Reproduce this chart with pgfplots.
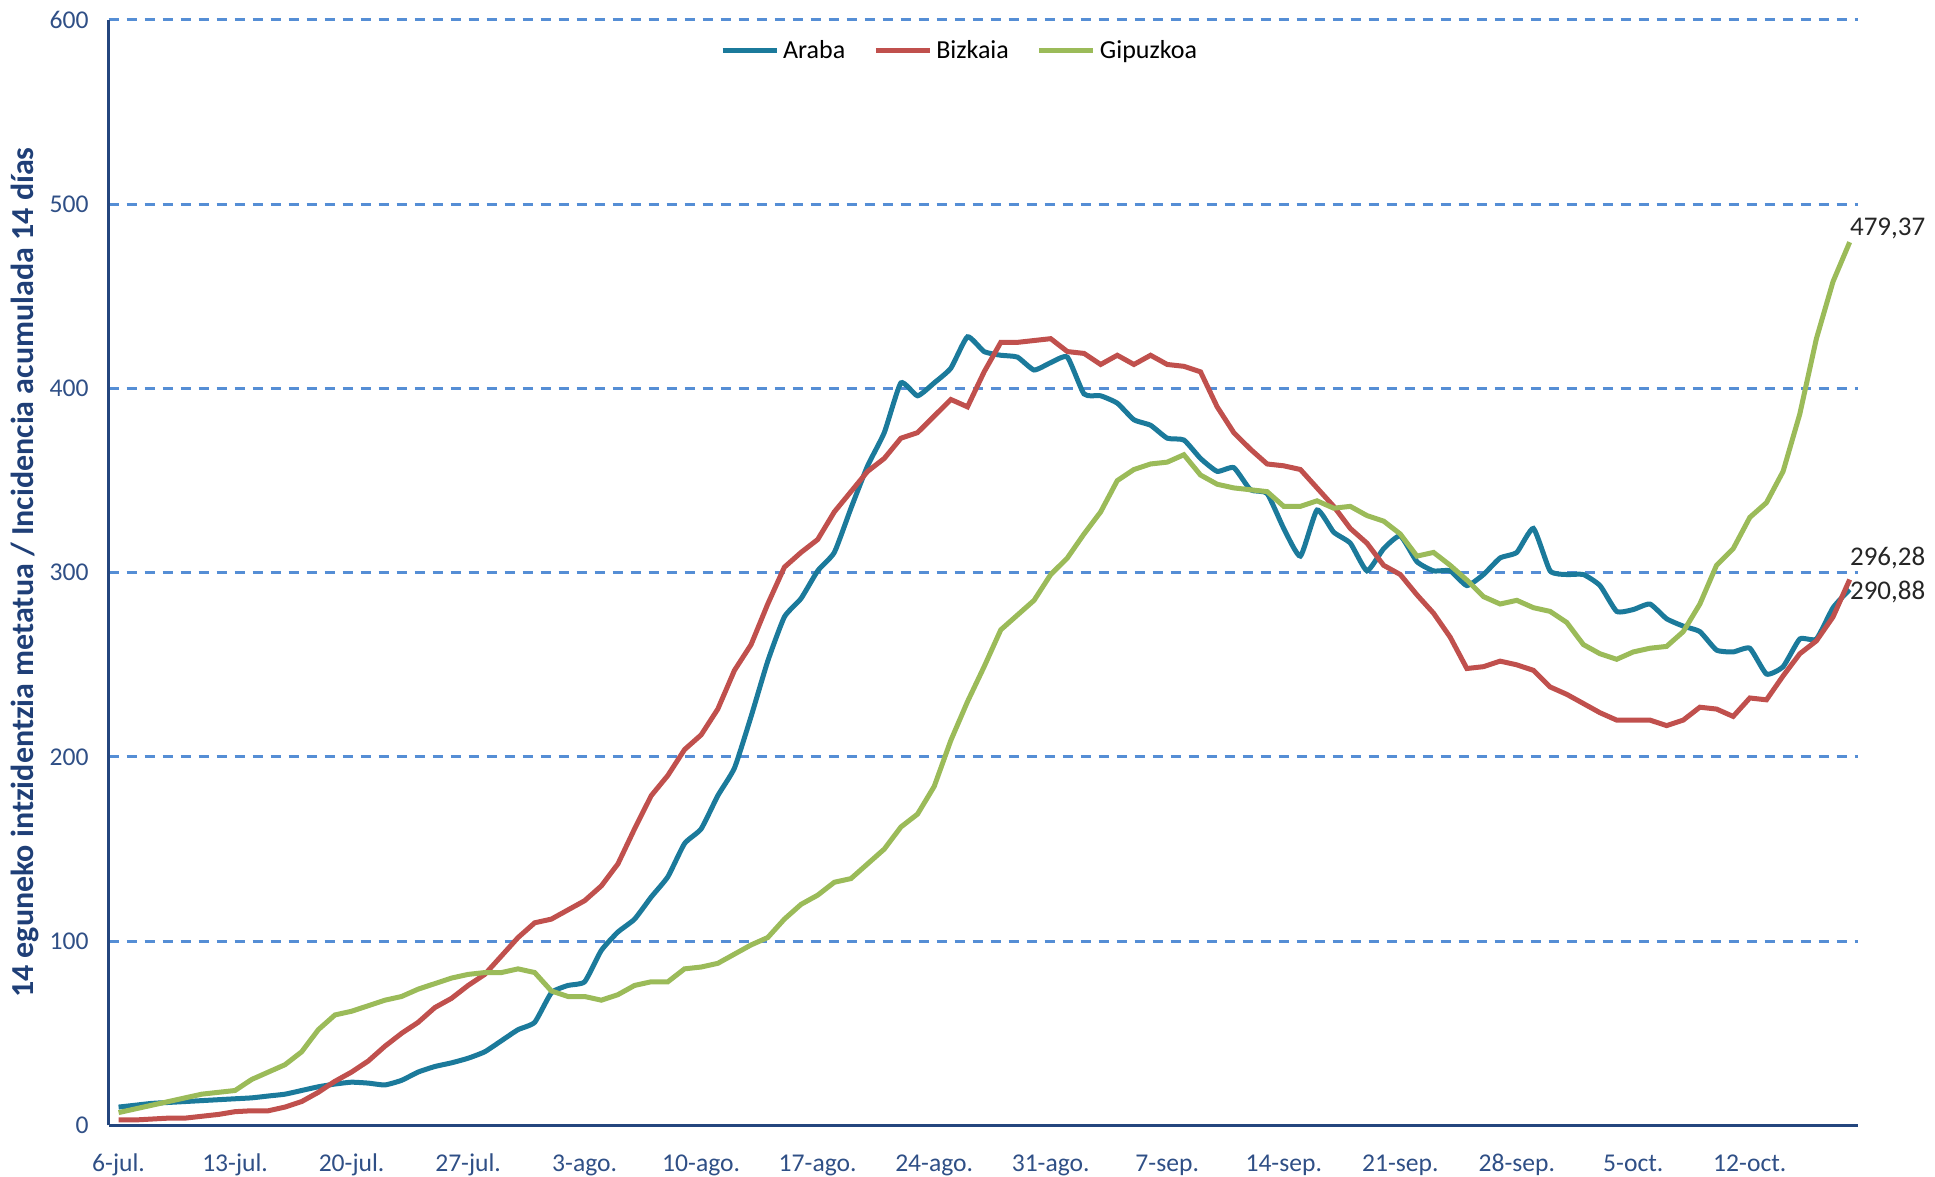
\documentclass[border=0pt]{standalone}
\usepackage{fontspec}
\setmainfont{Carlito}
\usepackage{pgfplots}
\pgfplotsset{compat=1.18}
\definecolor{araba}{HTML}{1B7A9B}
\definecolor{bizkaia}{HTML}{C0504D}
\definecolor{gipuzkoa}{HTML}{9BBB59}
\definecolor{gridc}{HTML}{558ED5}
\definecolor{axc}{HTML}{24467E}
\definecolor{tickc}{HTML}{2F4F86}
\definecolor{labc}{HTML}{1F3F77}
\begin{document}
\begin{tikzpicture}
\begin{axis}[
  at={(54.3pt,25.75pt)}, anchor=south west,
  scale only axis, width=874.7pt, height=552.8pt,
  xmin=-0.6, xmax=104.5, ymin=0, ymax=600,
  axis x line=bottom, axis y line=left,
  axis line style={axc, line width=1.5pt, -},
  xtick={0,7,...,98},
  xticklabels={6-jul.,13-jul.,20-jul.,27-jul.,3-ago.,10-ago.,17-ago.,24-ago.,31-ago.,7-sep.,14-sep.,21-sep.,28-sep.,5-oct.,12-oct.},
  ytick={0,100,...,600},
  major tick length=0pt,
  ymajorgrids,
  grid style={gridc, line width=1.5pt, dash pattern=on 5pt off 4pt},
  tick label style={font=\fontsize{12.8}{14}\selectfont, text=tickc},
  xticklabel style={anchor=base, yshift=-22.8pt},
  yticklabel style={anchor=east, inner sep=0pt, xshift=-9.8pt},
  /pgf/number format/assume math mode=true,
  ylabel={14 eguneko intzidentzia metatua / Incidencia acumulada 14 días},
  every axis y label/.style={at={([xshift=-42pt]rel axis cs:0,0.5)}, rotate=90, anchor=center, font=\bfseries\fontsize{16}{18}\selectfont, text=labc},
  legend style={at={(rel axis cs:0.487,0.972)}, anchor=center, draw=none, fill=none, legend columns=3, font=\fontsize{13}{15}\selectfont, /tikz/every even column/.append style={column sep=12pt}},
  legend image code/.code={\draw[#1, line width=2.5pt] (0pt,0pt) -- (27pt,0pt);},
  clip=false,
]
\addplot[araba, line width=2.5pt, smooth, tension=0.3] coordinates {
(0,10)(1,11)(2,12)(3,12.5)(4,13)(5,13.5)(6,14)(7,14.5)(8,15)(9,16)
(10,17)(11,19)(12,21)(13,22.5)(14,23.5)(15,23)(16,22)(17,24.5)(18,29)(19,32)
(20,34)(21,36.5)(22,40)(23,46)(24,52)(25,56)(26,72)(27,76)(28,78)(29,95)
(30,105)(31,112)(32,124)(33,135)(34,153)(35,161)(36,179)(37,194)(38,222)(39,252)
(40,276)(41,286)(42,301)(43,311)(44,335)(45,358)(46,376)(47,403)(48,396)(49,403)
(50,411)(51,428)(52,420)(53,418)(54,417)(55,410)(56,414)(57,417)(58,397)(59,396)
(60,392)(61,383)(62,380)(63,373)(64,372)(65,362)(66,355)(67,357)(68,345)(69,343)
(70,324)(71,309)(72,334)(73,322)(74,316)(75,301)(76,313)(77,320)(78,306)(79,301)
(80,301)(81,293)(82,299)(83,308)(84,311)(85,324)(86,301)(87,299)(88,299)(89,293)
(90,279)(91,280)(92,283)(93,275)(94,271)(95,268)(96,258)(97,257)(98,259)(99,245)
(100,249)(101,264)(102,264)(103,281)(104,290.88)};
\addlegendentry{Araba}
\addplot[bizkaia, line width=2.5pt] coordinates {
(0,3)(1,3)(2,3.5)(3,4)(4,4)(5,5)(6,6)(7,7.5)(8,8)(9,8)
(10,10)(11,13)(12,18)(13,24)(14,29)(15,35)(16,43)(17,50)(18,56)(19,64)
(20,69)(21,76)(22,82)(23,92)(24,102)(25,110)(26,112)(27,117)(28,122)(29,130)
(30,142)(31,161)(32,179)(33,190)(34,204)(35,212)(36,226)(37,247)(38,261)(39,283)
(40,303)(41,311)(42,318)(43,333)(44,344)(45,355)(46,362)(47,373)(48,376)(49,385)
(50,394)(51,390)(52,409)(53,425)(54,425)(55,426)(56,427)(57,420)(58,419)(59,413)
(60,418)(61,413)(62,418)(63,413)(64,412)(65,409)(66,390)(67,376)(68,367)(69,359)
(70,358)(71,356)(72,346)(73,336)(74,324)(75,316)(76,304)(77,299)(78,288)(79,278)
(80,265)(81,248)(82,249)(83,252)(84,250)(85,247)(86,238)(87,234)(88,229)(89,224)
(90,220)(91,220)(92,220)(93,217)(94,220)(95,227)(96,226)(97,222)(98,232)(99,231)
(100,244)(101,256)(102,263)(103,276)(104,296.28)};
\addlegendentry{Bizkaia}
\addplot[gipuzkoa, line width=2.5pt] coordinates {
(0,7)(1,9)(2,11)(3,13)(4,15)(5,17)(6,18)(7,19)(8,25)(9,29)
(10,33)(11,40)(12,52)(13,60)(14,62)(15,65)(16,68)(17,70)(18,74)(19,77)
(20,80)(21,82)(22,83)(23,83)(24,85)(25,83)(26,73)(27,70)(28,70)(29,68)
(30,71)(31,76)(32,78)(33,78)(34,85)(35,86)(36,88)(37,93)(38,98)(39,102)
(40,112)(41,120)(42,125)(43,132)(44,134)(45,142)(46,150)(47,162)(48,169)(49,184)
(50,209)(51,230)(52,249)(53,269)(54,277)(55,285)(56,299)(57,308)(58,321)(59,333)
(60,350)(61,356)(62,359)(63,360)(64,364)(65,353)(66,348)(67,346)(68,345)(69,344)
(70,336)(71,336)(72,339)(73,335)(74,336)(75,331)(76,328)(77,321)(78,309)(79,311)
(80,304)(81,296)(82,287)(83,283)(84,285)(85,281)(86,279)(87,273)(88,261)(89,256)
(90,253)(91,257)(92,259)(93,260)(94,268)(95,283)(96,304)(97,313)(98,330)(99,338)
(100,355)(101,386)(102,427)(103,458)(104,479.37)};
\addlegendentry{Gipuzkoa}
\node[anchor=west, inner sep=0pt, font=\fontsize{13.5}{15}\selectfont, text=black!85, yshift=7pt] at (axis cs:104,479.37) {479,37};
\node[anchor=west, inner sep=0pt, font=\fontsize{13.5}{15}\selectfont, text=black!85, yshift=11pt] at (axis cs:104,296.28) {296,28};
\node[anchor=west, inner sep=0pt, font=\fontsize{13.5}{15}\selectfont, text=black!85, yshift=-1.5pt] at (axis cs:104,290.88) {290,88};
\end{axis}
\pgfresetboundingbox
\path (0,0) rectangle (967.5pt,588.5pt);
\end{tikzpicture}
\end{document}
